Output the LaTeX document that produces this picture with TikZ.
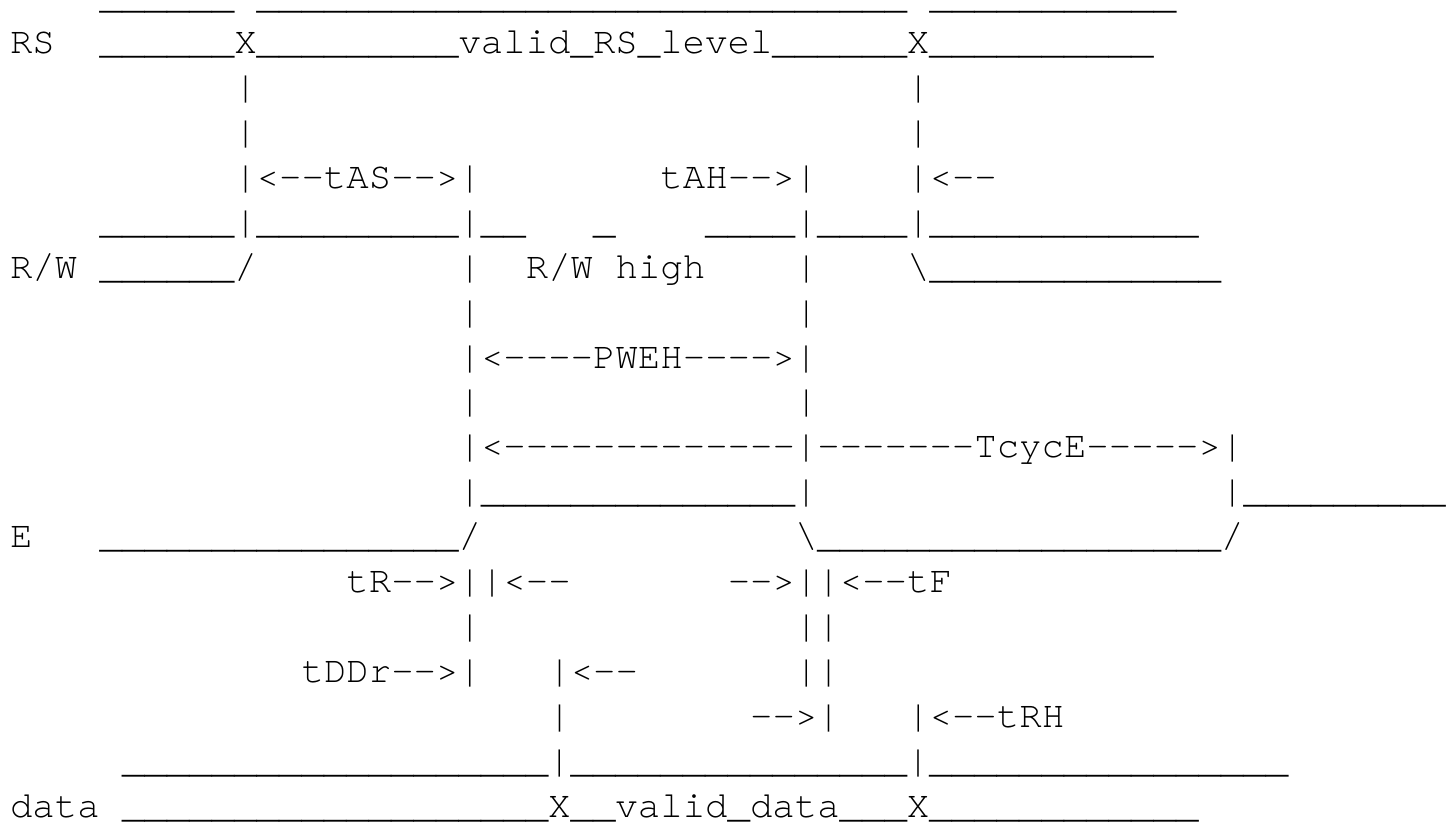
\documentclass[tikz,border=0pt]{standalone}
\usepackage{fontspec}
\setmonofont{TeX Gyre Cursor}

\tikzset{every picture/.style={line width=0.75pt}}
\tikzset{ascii/.style={anchor=base west, inner sep=0pt, font=\ttfamily\fontsize{28.03}{33.6}\selectfont}}

\begin{document}
\catcode`\_=12
\begin{tikzpicture}[x=0.75pt,y=0.75pt,yscale=-1,xscale=1]
    \useasboundingbox (0,0) rectangle (1452,821); %set diagram size 1452 x 821

    % Text Node
    \draw (99.22,8.8) node [ascii] (rsovA) {______};
    % Text Node
    \draw (256.23,8.8) node [ascii] (rsovB) {_____________________________};
    % Text Node
    \draw (929.13,8.8) node [ascii] (rsovC) {___________};
    % Text Node
    \draw (9.5,53.7) node [ascii] (rslbl) {RS};
    % Text Node
    \draw (99.22,53.7) node [ascii] (rsline) {______X_________valid_RS_level______X__________};
    % Text Node
    \draw (233.8,98.6) node [ascii] (rsbarA) {|};
    % Text Node
    \draw (906.7,98.6) node [ascii] (rsbarB) {|};
    % Text Node
    \draw (233.8,143.5) node [ascii] (rsbarC) {|};
    % Text Node
    \draw (906.7,143.5) node [ascii] (rsbarD) {|};
    % Text Node
    \draw (233.8,188.4) node [ascii] (tas) {|<--tAS-->|};
    % Text Node
    \draw (659.97,188.4) node [ascii] (tah) {tAH-->|};
    % Text Node
    \draw (906.7,188.4) node [ascii] (tahin) {|<--};
    % Text Node
    \draw (99.22,233.3) node [ascii] (rwovA) {______|_________|__};
    % Text Node
    \draw (592.68,233.3) node [ascii] (rwovB) {_};
    % Text Node
    \draw (704.83,233.3) node [ascii] (rwovC) {____|____|____________};
    % Text Node
    \draw (9.5,278.2) node [ascii] (rwlbl) {R/W};
    % Text Node
    \draw (99.22,278.2) node [ascii] (rwline) {______/};
    % Text Node
    \draw (458.1,278.2) node [ascii] (rwbarA) {|};
    % Text Node
    \draw (525.39,278.2) node [ascii] (rwhigh) {R/W high};
    % Text Node
    \draw (794.55,278.2) node [ascii] (rwbarB) {|};
    % Text Node
    \draw (906.7,278.2) node [ascii] (rwfall) {\textbackslash_____________};
    % Text Node
    \draw (458.1,323.1) node [ascii] (pwbarA) {|};
    % Text Node
    \draw (794.55,323.1) node [ascii] (pwbarB) {|};
    % Text Node
    \draw (458.1,368.0) node [ascii] (pweh) {|<----PWEH---->|};
    % Text Node
    \draw (458.1,412.9) node [ascii] (pwbarC) {|};
    % Text Node
    \draw (794.55,412.9) node [ascii] (pwbarD) {|};
    % Text Node
    \draw (458.1,457.8) node [ascii] (tcyc) {|<-------------|-------TcycE----->|};
    % Text Node
    \draw (458.1,502.7) node [ascii] (eovA) {|______________|};
    % Text Node
    \draw (1220.72,502.7) node [ascii] (eovB) {|_________};
    % Text Node
    \draw (9.5,547.6) node [ascii] (elbl) {E};
    % Text Node
    \draw (99.22,547.6) node [ascii] (erise) {________________/};
    % Text Node
    \draw (794.55,547.6) node [ascii] (efall) {\textbackslash__________________/};
    % Text Node
    \draw (345.95,592.5) node [ascii] (tr) {tR-->||<--};
    % Text Node
    \draw (727.26,592.5) node [ascii] (tf) {-->||<--tF};
    % Text Node
    \draw (458.1,637.4) node [ascii] (trbar) {|};
    % Text Node
    \draw (794.55,637.4) node [ascii] (tfbar) {||};
    % Text Node
    \draw (301.09,682.3) node [ascii] (tddr) {tDDr-->|};
    % Text Node
    \draw (547.82,682.3) node [ascii] (tddrin) {|<--};
    % Text Node
    \draw (794.55,682.3) node [ascii] (tfbarB) {||};
    % Text Node
    \draw (547.82,727.2) node [ascii] (tddrbar) {|};
    % Text Node
    \draw (749.69,727.2) node [ascii] (trhin) {-->|};
    % Text Node
    \draw (906.7,727.2) node [ascii] (trh) {|<--tRH};
    % Text Node
    \draw (121.65,772.1) node [ascii] (dataov) {___________________|_______________|________________};
    % Text Node
    \draw (9.5,817.0) node [ascii] (datalbl) {data};
    % Text Node
    \draw (121.65,817.0) node [ascii] (dataline) {___________________X__valid_data___X____________};
\end{tikzpicture}
\end{document}
